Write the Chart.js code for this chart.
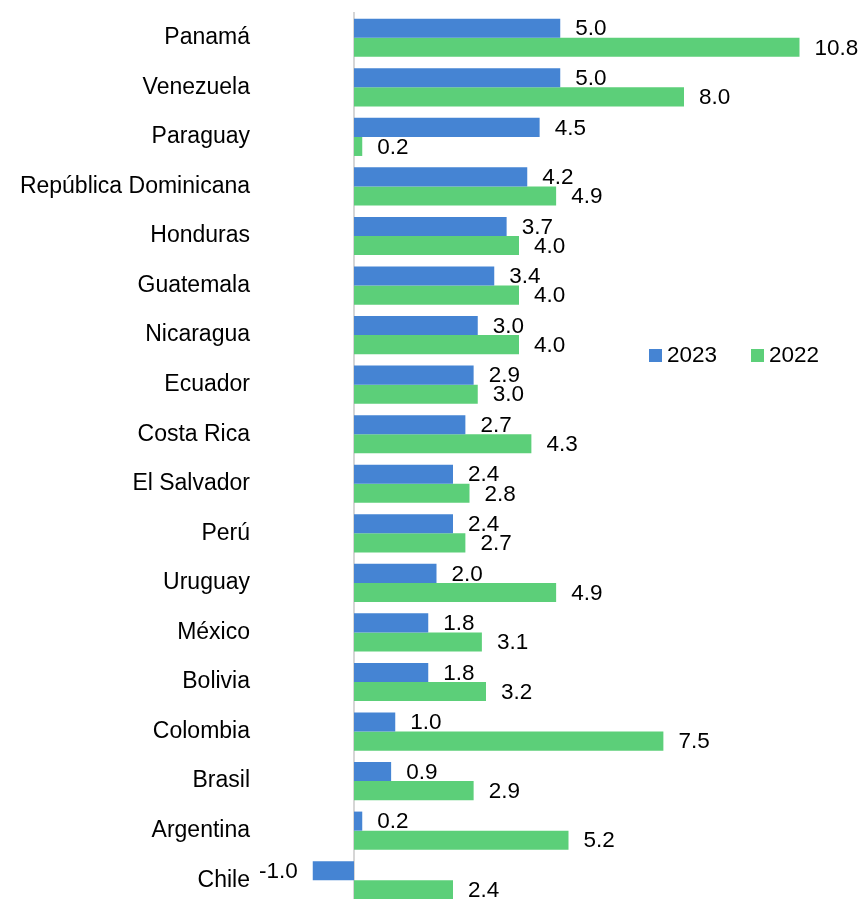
<!DOCTYPE html>
<html>
<head>
<meta charset="utf-8">
<script src="https://cdn.jsdelivr.net/npm/chart.js@4/dist/chart.umd.min.js"></script>
<style>
  html, body { margin: 0; padding: 0; background: #fff; overflow: hidden; }
  #wrap { width: 865px; height: 905px; }
</style>
</head>
<body>
<div id="wrap"><canvas id="c" width="865" height="905"></canvas></div>
<script>
const categories = ['Panamá', 'Venezuela', 'Paraguay', 'República Dominicana', 'Honduras', 'Guatemala', 'Nicaragua', 'Ecuador', 'Costa Rica', 'El Salvador', 'Perú', 'Uruguay', 'México', 'Bolivia', 'Colombia', 'Brasil', 'Argentina', 'Chile'];
const values2023 = [5.0, 5.0, 4.5, 4.2, 3.7, 3.4, 3.0, 2.9, 2.7, 2.4, 2.4, 2.0, 1.8, 1.8, 1.0, 0.9, 0.2, -1.0];
const values2022 = [10.8, 8.0, 0.2, 4.9, 4.0, 4.0, 4.0, 3.0, 4.3, 2.8, 2.7, 4.9, 3.1, 3.2, 7.5, 2.9, 5.2, 2.4];
const seriesLabels = ['2023', '2022'];
const seriesColors = ['#4584D3', '#5CCF79'];

const FONT = '"Liberation Sans", Arial, sans-serif';

const zeroLine = {
  id: 'zeroLine',
  beforeDatasetsDraw(chart) {
    const ctx = chart.ctx, xs = chart.scales.x, ca = chart.chartArea;
    const x = xs.getPixelForValue(0);
    ctx.save();
    ctx.strokeStyle = '#d6d6d6';
    ctx.lineWidth = 2;
    ctx.beginPath();
    ctx.moveTo(x, 12);
    ctx.lineTo(x, ca.bottom);
    ctx.stroke();
    ctx.restore();
  }
};

const valueLabels = {
  id: 'valueLabels',
  afterDatasetsDraw(chart) {
    const ctx = chart.ctx;
    ctx.save();
    ctx.font = '22.5px ' + FONT;
    ctx.fillStyle = '#000';
    ctx.textBaseline = 'middle';
    chart.data.datasets.forEach((ds, di) => {
      const meta = chart.getDatasetMeta(di);
      meta.data.forEach((el, i) => {
        const v = ds.data[i];
        const txt = v.toFixed(1);
        if (v >= 0) {
          ctx.textAlign = 'left';
          ctx.fillText(txt, el.x + 15, el.y + 1);
        } else {
          ctx.textAlign = 'right';
          ctx.fillText(txt, el.x - 15, el.y + 1);
        }
      });
    });
    ctx.restore();
  }
};

const customLegend = {
  id: 'customLegend',
  afterDraw(chart) {
    const ctx = chart.ctx;
    const items = [{ x: 649 }, { x: 751 }];
    ctx.save();
    ctx.font = '22.5px ' + FONT;
    ctx.textBaseline = 'middle';
    ctx.textAlign = 'left';
    chart.data.datasets.forEach((ds, i) => {
      const x = items[i].x;
      ctx.fillStyle = ds.backgroundColor;
      ctx.fillRect(x, 349, 13, 13);
      ctx.fillStyle = '#000';
      ctx.fillText(ds.label, x + 18, 356);
    });
    ctx.restore();
  }
};

new Chart(document.getElementById('c'), {
  type: 'bar',
  data: {
    labels: categories,
    datasets: [
      { label: seriesLabels[0], data: values2023, backgroundColor: seriesColors[0], categoryPercentage: 0.77, barPercentage: 1.0 },
      { label: seriesLabels[1], data: values2022, backgroundColor: seriesColors[1], categoryPercentage: 0.77, barPercentage: 1.0 }
    ]
  },
  options: {
    indexAxis: 'y',
    responsive: false,
    animation: false,
    devicePixelRatio: 1,
    layout: { padding: { top: 13, right: 16, left: 0, bottom: 0 } },
    plugins: { legend: { display: false }, tooltip: { enabled: false } },
    scales: {
      x: { display: false, min: -2.4, max: 12 },
      y: {
        grid: { display: false, drawTicks: false },
        border: { display: false },
        ticks: { color: '#000', font: { family: FONT, size: 23 }, padding: 5 },
        afterFit(scale) { scale.width = 255; scale.paddingTop = 0; scale.paddingBottom = 0; }
      }
    }
  },
  plugins: [zeroLine, valueLabels, customLegend]
});
</script>
</body>
</html>
